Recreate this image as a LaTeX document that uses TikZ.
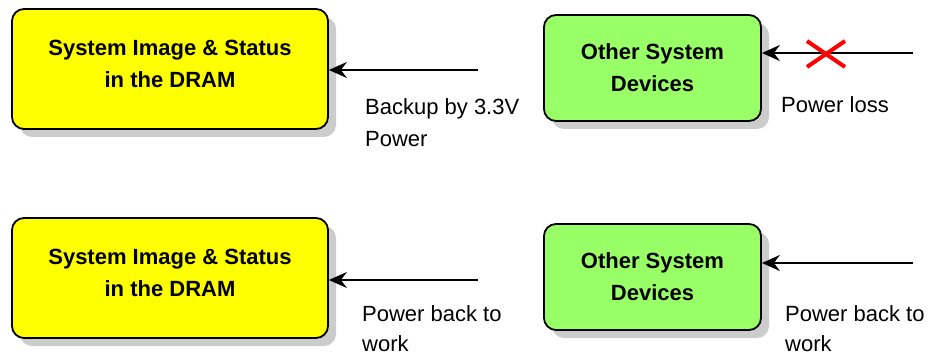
\documentclass[tikz,border=0pt]{standalone}
\usepackage{fontspec}
\setmainfont{Liberation Sans}
\usetikzlibrary{arrows.meta,shadows}
\definecolor{boxyellow}{RGB}{255,255,0}
\definecolor{boxgreen}{RGB}{153,255,102}
\definecolor{shadowgray}{RGB}{204,204,204}
\begin{document}
\begin{tikzpicture}[x=1pt,y=-1pt,
  box/.style={draw=black, line width=1.8pt, rounded corners=12pt, align=center,
    font=\bfseries\fontsize{22}{32}\selectfont, inner sep=0pt,
    drop shadow={shadow xshift=8pt, shadow yshift=-8pt, fill=shadowgray, opacity=1}},
  ybox/.style={box, fill=boxyellow, minimum width=316pt, minimum height=120pt, text depth=10pt},
  gbox/.style={box, fill=boxgreen, minimum width=217pt, minimum height=106pt},
  arr/.style={line width=1.4pt, -{Stealth[length=18pt,width=16pt,inset=6pt]}},
  lbl/.style={anchor=base west, inner sep=0pt, font=\fontsize{22}{26}\selectfont},
  cross/.style={draw=red, line width=4pt}]
\useasboundingbox (0,0) rectangle (929,355);
% boxes
\node[ybox] (y1) at (170,69) {System Image \& Status\\in the DRAM};
\node[ybox] (y2) at (170,278) {System Image \& Status\\in the DRAM};
\node[gbox] (g1) at (652.5,68) {Other System\\Devices};
\node[gbox] (g2) at (652.5,277) {Other System\\Devices};
% arrow sources
\coordinate (s1) at (478,70);
\coordinate (s2) at (478,280);
\coordinate (s3) at (913,53);
\coordinate (s4) at (913,263);
\draw[arr] (s1) -- (s1 -| y1.east);
\draw[arr] (s2) -- (s2 -| y2.east);
\draw[arr] (s3) -- (s3 -| g1.east);
\draw[arr] (s4) -- (s4 -| g2.east);
% red cross
\draw[cross] (807,41) -- (845,67);
\draw[cross] (807,67) -- (845,41);
% labels
\node[lbl] (l1) at (365,115) {Backup by 3.3V};
\node[lbl] (l2) at (365,147) {Power};
\node[lbl] (l3) at (781,113) {Power loss};
\node[lbl] (l4) at (362,322) {Power back to};
\node[lbl] (l5) at (362,352) {work};
\node[lbl] (l6) at (785,322) {Power back to};
\node[lbl] (l7) at (785,352) {work};
\end{tikzpicture}
\end{document}
